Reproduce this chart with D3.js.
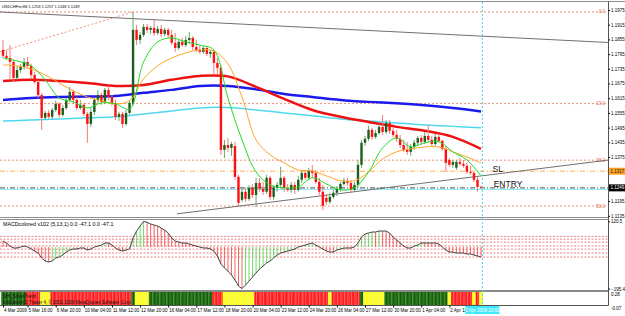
<!DOCTYPE html>
<html>
<head>
<meta charset="utf-8">
<title>USDCHF H4</title>
<script src="https://d3js.org/d3.v7.min.js"></script>
<style>
  body { margin: 0; background: #fff; }
  svg text { font-family: "Liberation Sans", Arial, sans-serif; }
</style>
</head>
<body>
<div id="chart"></div>
<script>
// ---- candles (H4 bars, 4 Mar - 3 Apr 2009) ----
const open = [1.1812,1.1788,1.1779,1.1763,1.1698,1.1730,1.1743,1.1763,1.1747,1.1710,
  1.1681,1.1628,1.1535,1.1555,1.1539,1.1567,1.1592,1.1547,1.1575,1.1608,
  1.1641,1.1608,1.1575,1.1588,1.1551,1.1510,1.1559,1.1608,1.1628,1.1600,
  1.1649,1.1620,1.1596,1.1539,1.1551,1.1510,1.1555,1.1592,1.1894,1.1853,
  1.1873,1.1906,1.1894,1.1902,1.1881,1.1898,1.1877,1.1894,1.1873,1.1841,
  1.1820,1.1845,1.1832,1.1853,1.1861,1.1824,1.1812,1.1804,1.1820,1.1796,
  1.1804,1.1759,1.1739,1.1404,1.1424,1.1412,1.1420,1.1294,1.1200,1.1233,
  1.1204,1.1249,1.1220,1.1269,1.1245,1.1233,1.1290,1.1212,1.1249,1.1261,
  1.1290,1.1249,1.1241,1.1261,1.1241,1.1282,1.1310,1.1290,1.1318,1.1310,
  1.1273,1.1233,1.1208,1.1192,1.1212,1.1229,1.1245,1.1265,1.1278,1.1269,
  1.1241,1.1261,1.1343,1.1433,1.1449,1.1486,1.1457,1.1473,1.1498,1.1477,
  1.1514,1.1482,1.1465,1.1449,1.1424,1.1404,1.1396,1.1416,1.1433,1.1453,
  1.1437,1.1461,1.1445,1.1428,1.1457,1.1441,1.1408,1.1363,1.1343,1.1331,
  1.1355,1.1347,1.1339,1.1314,1.1310,1.1282,1.1253];
const high = [1.1853,1.1812,1.1832,1.1771,1.1747,1.1755,1.1779,1.1783,1.1755,1.1722,
  1.1690,1.1637,1.1563,1.1567,1.1575,1.1604,1.1600,1.1588,1.1616,1.1661,
  1.1649,1.1620,1.1608,1.1596,1.1559,1.1575,1.1616,1.1649,1.1637,1.1657,
  1.1665,1.1628,1.1608,1.1559,1.1559,1.1567,1.1608,1.1967,1.1914,1.1885,
  1.1918,1.1918,1.1910,1.1934,1.1910,1.1914,1.1902,1.1902,1.1894,1.1881,
  1.1853,1.1861,1.1869,1.1885,1.1869,1.1853,1.1832,1.1828,1.1828,1.1812,
  1.1812,1.1779,1.1751,1.1445,1.1453,1.1437,1.1437,1.1302,1.1249,1.1249,
  1.1261,1.1265,1.1290,1.1290,1.1273,1.1302,1.1298,1.1261,1.1273,1.1335,
  1.1298,1.1265,1.1273,1.1273,1.1298,1.1322,1.1322,1.1331,1.1343,1.1322,
  1.1290,1.1261,1.1224,1.1229,1.1241,1.1257,1.1273,1.1290,1.1290,1.1282,
  1.1273,1.1363,1.1445,1.1461,1.1502,1.1494,1.1486,1.1510,1.1547,1.1526,
  1.1526,1.1494,1.1486,1.1465,1.1445,1.1437,1.1428,1.1445,1.1461,1.1465,
  1.1477,1.1506,1.1461,1.1469,1.1465,1.1445,1.1420,1.1371,1.1363,1.1363,
  1.1371,1.1363,1.1351,1.1339,1.1314,1.1294,1.1257];
const low = [1.1779,1.1771,1.1690,1.1681,1.1690,1.1718,1.1730,1.1739,1.1698,1.1673,
  1.1616,1.1486,1.1526,1.1530,1.1530,1.1559,1.1535,1.1539,1.1567,1.1600,
  1.1592,1.1567,1.1567,1.1543,1.1433,1.1498,1.1547,1.1596,1.1588,1.1592,
  1.1608,1.1584,1.1526,1.1522,1.1494,1.1502,1.1547,1.1584,1.1832,1.1836,
  1.1865,1.1881,1.1877,1.1869,1.1873,1.1865,1.1869,1.1861,1.1832,1.1804,
  1.1812,1.1824,1.1824,1.1836,1.1812,1.1804,1.1796,1.1796,1.1788,1.1779,
  1.1710,1.1710,1.1384,1.1371,1.1396,1.1380,1.1282,1.1171,1.1192,1.1192,
  1.1196,1.1208,1.1171,1.1233,1.1220,1.1224,1.1200,1.1200,1.1233,1.1249,
  1.1233,1.1233,1.1229,1.1224,1.1233,1.1269,1.1282,1.1282,1.1290,1.1265,
  1.1220,1.1159,1.1180,1.1184,1.1204,1.1216,1.1233,1.1257,1.1257,1.1229,
  1.1233,1.1249,1.1331,1.1420,1.1441,1.1445,1.1449,1.1465,1.1465,1.1469,
  1.1469,1.1457,1.1437,1.1412,1.1396,1.1384,1.1380,1.1404,1.1420,1.1424,
  1.1428,1.1437,1.1420,1.1420,1.1433,1.1400,1.1314,1.1335,1.1331,1.1322,
  1.1339,1.1331,1.1306,1.1302,1.1273,1.1233,1.1248];
const close = [1.1788,1.1779,1.1763,1.1698,1.1730,1.1743,1.1763,1.1747,1.1710,1.1681,
  1.1628,1.1535,1.1555,1.1539,1.1567,1.1592,1.1547,1.1575,1.1608,1.1641,
  1.1608,1.1575,1.1588,1.1551,1.1510,1.1559,1.1608,1.1628,1.1600,1.1649,
  1.1620,1.1596,1.1539,1.1551,1.1510,1.1555,1.1596,1.1894,1.1853,1.1873,
  1.1906,1.1894,1.1902,1.1881,1.1898,1.1877,1.1894,1.1873,1.1841,1.1820,
  1.1845,1.1832,1.1853,1.1861,1.1824,1.1812,1.1804,1.1820,1.1796,1.1804,
  1.1759,1.1739,1.1404,1.1424,1.1412,1.1428,1.1294,1.1188,1.1233,1.1204,
  1.1249,1.1220,1.1269,1.1245,1.1233,1.1290,1.1212,1.1249,1.1261,1.1290,
  1.1249,1.1241,1.1261,1.1241,1.1282,1.1310,1.1290,1.1318,1.1310,1.1273,
  1.1233,1.1176,1.1192,1.1212,1.1229,1.1245,1.1265,1.1278,1.1269,1.1241,
  1.1261,1.1343,1.1433,1.1449,1.1486,1.1457,1.1473,1.1498,1.1477,1.1514,
  1.1482,1.1465,1.1449,1.1424,1.1404,1.1396,1.1416,1.1433,1.1453,1.1437,
  1.1461,1.1445,1.1428,1.1457,1.1441,1.1408,1.1351,1.1343,1.1355,1.1355,
  1.1347,1.1339,1.1314,1.1310,1.1282,1.1253,1.1249];

// ---- moving averages, read every 4 / 8 bars ----
const fastIdx = [0,4,8,12,16,20,24,28,32,36,40,44,48,52,56,60,64,68,72,76,80,84,88,92,96,100,104,108,112,116,120,124,128,132,136];
const maOrange = [1.1751,1.1747,1.1734,1.1710,1.1677,1.1645,1.1620,1.1604,1.1592,1.1604,1.1694,1.1747,1.1779,1.1800,1.1812,1.1808,1.1755,1.1620,1.1445,1.1384,1.1351,1.1322,1.1318,1.1298,1.1278,1.1278,1.1314,1.1367,1.1396,1.1408,1.1416,1.1416,1.1396,1.1375,1.1351];
const maGreen = [1.1779,1.1767,1.1747,1.1690,1.1616,1.1600,1.1575,1.1596,1.1592,1.1571,1.1763,1.1845,1.1861,1.1845,1.1832,1.1812,1.1616,1.1445,1.1314,1.1261,1.1249,1.1253,1.1290,1.1265,1.1241,1.1249,1.1314,1.1412,1.1453,1.1416,1.1433,1.1437,1.1396,1.1363,1.1298];
const slowIdx = [0,8,16,24,32,40,48,56,64,72,80,88,96,104,112,120,128,136];
const maBlue = [1.1608,1.1616,1.1620,1.1622,1.1624,1.1637,1.1649,1.1665,1.1665,1.1651,1.1632,1.1620,1.1608,1.1600,1.1594,1.1586,1.1575,1.1561];
const maRed = [1.1685,1.1690,1.1685,1.1677,1.1665,1.1669,1.1690,1.1706,1.1704,1.1661,1.1612,1.1567,1.1539,1.1518,1.1498,1.1482,1.1457,1.1408];
const maCyan = [1.1522,1.1526,1.1530,1.1535,1.1539,1.1551,1.1563,1.1575,1.1577,1.1567,1.1555,1.1543,1.1530,1.1522,1.1514,1.1506,1.1500,1.1494];

// ---- drawn objects ----
const fibLevels = ["0.0", "23.6", "38.2", "50.0"];
const fibPrices = [1.1967, 1.1593, 1.1362, 1.1175];
const fibDiag = [[-1, 1.1804], [37, 1.1967]];
const trendTop = [[-1, 1.1967], [181, 1.1836]];
const trendLow = [[49.5, 1.1143], [172.5, 1.1363]];
const slPrice = 1.1317, bidPrice = 1.1249, askPrice = 1.1245;
const cursorBar = 136.4;
const notes = [{text: "SL", bar: 139.3, price: 1.1312}, {text: "ENTRY", bar: 139.6, price: 1.1252}];

// ---- MACD ----
const macd = [28.2,18.8,4.7,-4.7,-4.7,0,4.7,0,-9.4,-18.8,
  -28.2,-51.7,-65.8,-70.5,-65.8,-51.7,-47,-37.6,-23.5,-14.1,
  -9.4,-9.4,-4.7,-4.7,-14.1,-9.4,0,4.7,9.4,18.8,
  18.8,9.4,-4.7,-14.1,-18.8,-14.1,-9.4,42.3,75.2,98.7,
  120.5,116.3,108.1,103.4,98.7,89.3,79.9,65.8,42.3,28.2,
  23.5,18.8,18.8,14.1,9.4,4.7,0,-4.7,-4.7,-9.4,
  -18.8,-42.3,-79.9,-98.7,-112.8,-131.6,-155.1,-183.3,-195.4,-178.6,
  -159.8,-141,-122.2,-103.4,-89.3,-75.2,-65.8,-51.7,-37.6,-28.2,
  -23.5,-18.8,-14.1,-9.4,0,4.7,9.4,14.1,18.8,9.4,
  0,-9.4,-18.8,-23.5,-23.5,-14.1,-9.4,-4.7,-4.7,-4.7,
  0,18.8,47,61.1,65.8,70.5,70.5,75.2,75.2,75.2,
  65.8,47,32.9,18.8,4.7,-4.7,-4.7,4.7,9.4,18.8,
  18.8,18.8,18.8,18.8,14.1,0,-14.1,-23.5,-23.5,-28.2,
  -28.2,-28.2,-32.9,-32.9,-37.6,-42.3,-47.1];
const macdLevels = [50, 37, 23, 5, -10, -28, -47];

// ---- signal bar states: G green, R red, Y yellow ----
const barState = ("GGGGGGG RRRR YYY RRRRRRRRRRRRRRRRRRRRRRR G YYYY GGGGGGGGGGGGGGGGGG RRR YYYYYYYYY " +
  "RRRRRRRRRRRRRRRRRRRRR Y RRRRRRRR G YYYYYY GGGGGGGGGGGGGGGGGG Y RRRRRR Y R Y").replace(/ /g, "").split("");

// ---- axis labels ----
const priceTicks = [1.1975,1.1915,1.1855,1.1795,1.1735,1.1675,1.1615,1.1555,1.1495,1.1435,1.1375,1.1195,1.1135];
const timeIdx = [0,7,15,23,31,39,47,55,63,71,79,87,95,103,111,119,127];
const timeLabels = ["4 Mar 2009","5 Mar 16:00","6 Mar 20:00","10 Mar 04:00","11 Mar 12:00","12 Mar 20:00",
  "16 Mar 04:00","17 Mar 12:00","18 Mar 20:00","20 Mar 04:00","23 Mar 12:00","24 Mar 20:00",
  "26 Mar 04:00","27 Mar 12:00","30 Mar 20:00","1 Apr 04:00","2 Apr 12:00"];
const cursorTime = "3 Apr 2009 20:00";
const header = "USDCHFm,H4 1.1253 1.1257 1.1248 1.1249";
const macdTitle = "MACDcolored v102 (5,13,1) 0.0 -47.1 0.0 -47.1";
const macdRange = [120.5, -195.4];
const sigRange = ["0.28", "-0.07"];

const W = 625, H = 316, axisX = 608;
const small = "4.5px";

const svg = d3.select("#chart").append("svg")
    .attr("width", W).attr("height", H);

const x = d3.scaleLinear().domain([0, 136]).range([3, 481]);
const y = d3.scaleLinear().domain([1.1975, 1.1375]).range([10, 157]);
const ym = d3.scaleLinear().domain([-195.4, 120.5]).range([288.6, 221.4]);
const step = x(1) - x(0);

svg.append("rect").attr("width", W).attr("height", H).attr("fill", "#fff");

let defs = svg.append("defs");
defs.append("clipPath").attr("id", "cm").append("rect")
    .attr("x", 0).attr("y", 3).attr("width", axisX).attr("height", 214);
defs.append("clipPath").attr("id", "cd").append("rect")
    .attr("x", 0).attr("y", 220).attr("width", axisX).attr("height", 70);

// ================= main pane =================
let main = svg.append("g").attr("clip-path", "url(#cm)");

// fib levels
main.selectAll(".fib").data(fibPrices).enter().append("line")
    .attr("x1", 0).attr("x2", axisX)
    .attr("y1", d => y(d)).attr("y2", d => y(d))
    .attr("stroke", "#f0907a").attr("stroke-width", 1).attr("stroke-dasharray", "2,2");
main.append("line")
    .attr("x1", x(fibDiag[0][0])).attr("y1", y(fibDiag[0][1]))
    .attr("x2", x(fibDiag[1][0])).attr("y2", y(fibDiag[1][1]))
    .attr("stroke", "#f0907a").attr("stroke-dasharray", "2,2");
main.selectAll(".fibl").data(fibLevels).enter().append("text")
    .attr("x", axisX - 3).attr("y", (d, i) => y(fibPrices[i]) + 1.5)
    .attr("text-anchor", "end").attr("font-size", small).attr("fill", "#e07060")
    .text(d => d);

// horizontal price lines
main.append("line").attr("x1", 0).attr("x2", axisX)
    .attr("y1", y(slPrice)).attr("y2", y(slPrice))
    .attr("stroke", "#ffb050").attr("stroke-dasharray", "5,2,1,2");
main.append("line").attr("x1", 0).attr("x2", axisX)
    .attr("y1", y(askPrice) + 0.5).attr("y2", y(askPrice) + 0.5)
    .attr("stroke", "#7fe8f0");
main.append("line").attr("x1", 0).attr("x2", axisX)
    .attr("y1", y(bidPrice)).attr("y2", y(bidPrice))
    .attr("stroke", "#505050").attr("stroke-dasharray", "5,2,1,2");

// trend lines
[trendTop, trendLow].forEach(t => {
    main.append("line")
        .attr("x1", x(t[0][0])).attr("y1", y(t[0][1]))
        .attr("x2", x(t[1][0])).attr("y2", y(t[1][1]))
        .attr("stroke", "#707070").attr("stroke-width", 1);
});

// moving averages
let maLine = d3.line().x(d => x(d[0])).y(d => y(d[1])).curve(d3.curveCatmullRom.alpha(0.5));
function drawMA(idx, vals, color, w) {
    main.append("path").datum(idx.map((d, i) => [d, vals[i]]))
        .attr("d", maLine).attr("fill", "none")
        .attr("stroke", color).attr("stroke-width", w);
}
drawMA(slowIdx, maCyan, "#4fd8f0", 1.5);
drawMA(slowIdx, maBlue, "#1a1aee", 2.5);
drawMA(slowIdx, maRed, "#ee1111", 2.5);

// candles
let bars = d3.range(close.length);
main.selectAll(".wick").data(bars).enter().append("line")
    .attr("x1", i => x(i)).attr("x2", i => x(i))
    .attr("y1", i => y(high[i])).attr("y2", i => y(low[i]))
    .attr("stroke", i => close[i] >= open[i] ? "#6aa86a" : "#f47a7a");
main.selectAll(".body").data(bars).enter().append("rect")
    .attr("x", i => x(i) - 1.2).attr("width", 2.4)
    .attr("y", i => y(Math.max(open[i], close[i])))
    .attr("height", i => Math.max(1, y(Math.min(open[i], close[i])) - y(Math.max(open[i], close[i]))))
    .attr("fill", i => close[i] >= open[i] ? "#1d5e1d" : "#ff1010");

drawMA(fastIdx, maOrange, "#ffa526", 1);
drawMA(fastIdx, maGreen, "#22dd22", 1);

// notes
main.selectAll(".note").data(notes).enter().append("text")
    .attr("x", d => x(d.bar)).attr("y", d => y(d.price))
    .attr("font-size", "8.5px").attr("fill", "#111").text(d => d.text);

// header
svg.append("text").attr("x", 2).attr("y", 7.5).attr("font-size", "3.9px").text(header);

// ================= MACD pane =================
let md = svg.append("g").attr("clip-path", "url(#cd)");
md.selectAll(".lvl").data(macdLevels).enter().append("line")
    .attr("x1", 0).attr("x2", axisX)
    .attr("y1", d => ym(d)).attr("y2", d => ym(d))
    .attr("stroke", "#f08080").attr("stroke-dasharray", "2,1.5");
md.selectAll(".hist").data(bars).enter().append("line")
    .attr("x1", i => x(i)).attr("x2", i => x(i))
    .attr("y1", ym(0)).attr("y2", i => ym(macd[i]))
    .attr("stroke", i => (i > 0 && macd[i] > macd[i - 1]) ? "#6fdc6f" : "#f26262")
    .attr("stroke-width", 1);
md.append("path").datum(bars)
    .attr("d", d3.line().x(i => x(i)).y(i => ym(macd[i])))
    .attr("fill", "none").attr("stroke", "#444").attr("stroke-width", 1);
svg.append("text").attr("x", 3).attr("y", 226).attr("font-size", "5.3px").text(macdTitle);

// ================= signal bars pane =================
let sg = svg.append("g");
const stateFill = {G: "#2a7a1c", R: "#ff1c1c", Y: "#ffff10"};
const stateLine = {G: "#0e4a0e", R: "#ff7a7a", Y: "#f4f4a0"};
sg.selectAll(".sb").data(bars).enter().append("rect")
    .attr("x", i => x(i) - step / 2).attr("width", step + 0.2)
    .attr("y", 292).attr("height", 13)
    .attr("fill", i => stateFill[barState[i]]);
sg.selectAll(".sl").data(bars).enter().append("line")
    .attr("x1", i => x(i) + 0.5).attr("x2", i => x(i) + 0.5)
    .attr("y1", 292).attr("y2", 305)
    .attr("stroke", i => stateLine[barState[i]]).attr("stroke-width", 0.8);
sg.append("text").attr("x", 3).attr("y", 297.5).attr("font-size", small).attr("fill", "#111").text("SHI_SilverTrend");
sg.append("text").attr("x", 3).attr("y", 303.5).attr("font-size", small).attr("fill", "#111")
    .text("Indicators(1) Trader 4, \u00a9 2001-2009 MetaQuotes Software Corp.");

// ================= frame =================
svg.append("line").attr("x1", 0).attr("x2", W).attr("y1", 1.5).attr("y2", 1.5).attr("stroke", "#909090");
svg.append("line").attr("x1", 0).attr("x2", axisX).attr("y1", 217.5).attr("y2", 217.5).attr("stroke", "#909090");
svg.append("line").attr("x1", 0).attr("x2", axisX).attr("y1", 219.5).attr("y2", 219.5).attr("stroke", "#909090");
svg.append("rect").attr("x", 0).attr("y", 290).attr("width", axisX).attr("height", 2).attr("fill", "#8a8a8a");
svg.append("line").attr("x1", 0).attr("x2", axisX + 0.5).attr("y1", 305.5).attr("y2", 305.5).attr("stroke", "#555");
svg.append("line").attr("x1", axisX + 0.5).attr("x2", axisX + 0.5).attr("y1", 1.5).attr("y2", 305.5).attr("stroke", "#555");

// cursor line
svg.append("line").attr("x1", x(cursorBar)).attr("x2", x(cursorBar))
    .attr("y1", 2).attr("y2", 305).attr("stroke", "#40d8e8").attr("stroke-dasharray", "2,2");

// price axis
let pAxis = svg.append("g").attr("transform", "translate(" + (axisX + 0.5) + ",0)")
    .call(d3.axisRight(y).tickValues(priceTicks).tickSize(1.5).tickPadding(1).tickFormat(d3.format(".4f")));
pAxis.select(".domain").remove();
pAxis.selectAll("text").attr("font-size", small).attr("font-family", "Liberation Sans, Arial");

// price boxes
[[slPrice, "#ffa020", "#222"], [bidPrice, "#000", "#fff"]].forEach(b => {
    svg.append("rect").attr("x", axisX + 1).attr("y", y(b[0]) - 3.5).attr("width", 16).attr("height", 7).attr("fill", b[1]);
    svg.append("text").attr("x", axisX + 2.5).attr("y", y(b[0]) + 1.6).attr("font-size", small)
        .attr("fill", b[2]).text(d3.format(".4f")(b[0]));
});

// MACD range labels
let mAxis = svg.append("g").attr("transform", "translate(" + (axisX + 0.5) + ",0)")
    .call(d3.axisRight(ym).tickValues(macdRange).tickSize(1.5).tickPadding(1).tickFormat(d3.format(".1f")));
mAxis.select(".domain").remove();
mAxis.selectAll("text").attr("font-size", small).attr("font-family", "Liberation Sans, Arial");
svg.selectAll(".sr").data(sigRange).enter().append("text")
    .attr("x", axisX + 3).attr("y", (d, i) => i ? 310 : 296)
    .attr("font-size", small).text(d => d);

// time axis
let tAxis = svg.append("g").attr("transform", "translate(0,305.5)")
    .call(d3.axisBottom(x).tickValues(timeIdx).tickSize(2).tickPadding(1)
        .tickFormat((d, i) => timeLabels[i]));
tAxis.select(".domain").remove();
tAxis.selectAll("text").attr("font-size", small).attr("text-anchor", "start")
    .attr("dx", "0.5").attr("font-family", "Liberation Sans, Arial");

svg.append("rect").attr("x", x(cursorBar) - 17).attr("y", 306).attr("width", 34).attr("height", 8).attr("fill", "#3fe8ff");
svg.append("text").attr("x", x(cursorBar)).attr("y", 311.7).attr("text-anchor", "middle")
    .attr("font-size", small).attr("fill", "#fff").text(cursorTime);
</script>
</body>
</html>
